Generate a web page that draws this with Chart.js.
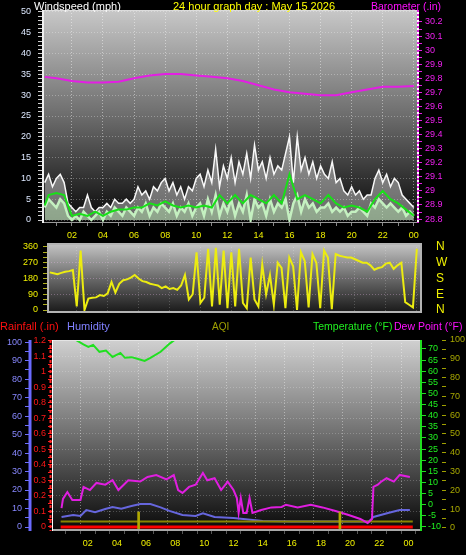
<!DOCTYPE html>
<html>
<head>
<meta charset="utf-8">
<script src="https://cdn.jsdelivr.net/npm/chart.js@4.4.1/dist/chart.umd.min.js"></script>
<style>
  html, body { margin: 0; padding: 0; background: #000; }
  body { position: relative; width: 466px; height: 555px; overflow: hidden; font-family: 'Liberation Sans', Arial, sans-serif; }
  canvas { position: absolute; left: 0; }
  .lbl { position: absolute; z-index: 2; font-size: 11px; line-height: 12px; white-space: nowrap; }
</style>
</head>
<body>
<canvas id="windChart" width="466" height="246" style="top:0"></canvas>
<canvas id="dirChart" width="466" height="80" style="top:240px"></canvas>
<canvas id="climateChart" width="466" height="225" style="top:330px"></canvas>
<div class="lbl" style="left:34px;top:0;color:#fff">Windspeed (mph)</div>
<div class="lbl" style="left:173px;top:0;color:#ffff00">24 hour graph day : May 15 2026</div>
<div class="lbl" style="left:371px;top:0;color:#ff10ff;font-size:10.5px">Barometer (.in)</div>
<div class="lbl" style="left:0;top:320px;color:#ff1010">Rainfall (.in)</div>
<div class="lbl" style="left:67px;top:320px;color:#8080ff">Humidity</div>
<div class="lbl" style="left:212px;top:321px;color:#a0a000;font-size:10px">AQI</div>
<div class="lbl" style="left:313px;top:320px;color:#20f020;font-size:10.5px">Temperature (°F)</div>
<div class="lbl" style="left:394px;top:320px;color:#ff10ff;font-size:10.5px">Dew Point (°F)</div>
<script>
// ---------- data (hours since midnight) ----------
const X_MIN = 0.14, X_MAX = 24.27;
const hourTicks = [1, 2, 3, 4, 5, 6, 7, 8, 9, 10, 11, 12, 13, 14, 15, 16, 17, 18, 19, 20, 21, 22, 23, 24];

// wind, one sample every 15 min from 00:15
const gust = [9, 11, 8, 10, 11, 9, 4,
  3, 2, 3, 3, 6, 3, 2, 3, 3,
  4, 3, 5, 4, 4, 5, 4, 5,
  8, 6, 7, 5, 8, 7, 9, 10,
  7, 9, 6, 8, 5, 8, 7, 10,
  11, 8, 12, 9, 17, 8, 13, 10,
  15, 9, 14, 11, 16, 10, 18, 12,
  14, 10, 15, 11, 13, 12, 16, 20,
  9, 20, 12, 15, 11, 14, 10, 13,
  11, 10, 14, 9, 10, 7, 6, 8,
  6, 7, 5, 6, 6, 10, 12, 9,
  11, 8, 10, 9, 6, 5, 4, 3];
const speed = [3, 5, 4, 3, 5, 4, 1,
  0, 1, 0, 2, 1, 0, 1, 2, 0,
  2, 1, 3, 2, 1, 3, 2, 1,
  3, 2, 4, 1, 3, 2, 4, 3,
  2, 4, 1, 3, 2, 4, 1, 3,
  4, 1, 5, 2, 6, 1, 4, 2,
  5, 1, 4, 2, 6, 0, 5, 3,
  4, 1, 5, 2, 4, 3, 5, 0,
  4, 6, 2, 5, 3, 4, 2, 3,
  3, 4, 2, 3, 2, 3, 1, 2,
  2, 3, 2, 1, 4, 3, 5, 4,
  3, 4, 3, 2, 3, 1, 2, 1];
const direction = [215, 210, 205, 212, 218, 222, 228,
  20, 340, 0, 65, 70, 72, 85, 80, 95,
  160, 100, 150, 170, 175, 185, 200, 180,
  165, 160, 150, 145, 140, 125, 135, 120,
  125, 115, 140, 200, 60, 90, 330, 40,
  70, 350, 20, 355, 30, 340, 10, 330,
  20, 350, 40, 10, 300, 60, 20, 260,
  90, 200, 30, 270, 240, 10, 300, 250,
  0, 330, 280, 15, 320, 270, 10, 340,
  300, 5, 320, 310, 305, 300, 300, 290,
  280, 270, 270, 255, 230, 240, 245, 265,
  270, 235, 255, 270, 45, 30, 15, 350];

const avgHours = [0.25, 0.5, 1, 1.5, 2, 2.5, 3, 3.5, 4, 4.5, 5, 5.5, 6, 6.5, 7, 7.5, 8, 8.5, 9, 9.5, 10, 10.5,
  11, 11.5, 12, 12.5, 13, 13.5, 14, 14.5, 15, 15.5, 16, 16.5, 17, 17.5, 18, 18.5, 19, 19.5, 20, 20.5,
  21, 21.5, 22, 22.5, 23, 23.5, 24];
const avgSpeed = [3.5, 6, 6.5, 6, 1, 1.5, 1, 2, 1, 2, 2.5, 2.5, 3, 3, 4, 3.5, 4.5, 3.5, 3, 3.5, 3, 3.5,
  3, 6, 4, 6, 4, 6, 5, 4, 6, 4, 11, 5, 6, 5, 4, 6, 4, 3, 3.5, 3,
  2, 5, 7, 5, 4, 2.5, 1];

const baroHours = [0.25, 1, 2, 3, 4, 5, 6, 7, 8, 9, 10, 11, 12, 13, 14, 15, 16, 17, 18, 19, 20, 21, 22, 23, 24];
const baro = [29.81, 29.80, 29.78, 29.77, 29.77, 29.775, 29.80, 29.82, 29.83, 29.83, 29.82, 29.81, 29.80,
  29.78, 29.75, 29.72, 29.70, 29.69, 29.68, 29.68, 29.70, 29.72, 29.74, 29.74, 29.745];

const tempHours = [0.25, 1, 1.27, 1.7, 2.04, 2.37, 2.8, 3.25, 3.7, 4.24, 4.55, 5.0, 5.4, 5.9, 6.3, 7.0, 7.64, 8.0,
  9, 10, 12, 14, 16, 18, 20, 22, 24.1];
const temperature = [77, 75, 73.7, 72, 70.9, 71.8, 68.7, 69.3, 66.4, 68.2, 66, 66.3, 65.6, 64.6, 66, 68.7, 72.5, 74.2,
  78, 81, 85, 86, 85, 83, 80, 78, 77];

const dewHours = [0.2, 0.3, 0.6, 0.94, 1.5, 1.71, 2.15, 2.6, 3.2, 3.7, 4.1, 4.78, 5.6, 6.1, 6.7, 7.4, 7.9, 8.2, 8.5,
  8.95, 9.4, 9.9, 10.2, 10.7, 11.15, 11.6, 12.0, 12.23, 12.35, 12.5, 12.67, 12.9, 13.1, 13.3, 13.9, 14.6, 15.3,
  15.6, 16.4, 17.3, 18.1, 19.0, 19.9, 20.7, 21.2, 21.5, 21.6, 21.9, 22.1, 22.5, 23.0, 23.4, 24.1];
const dewPoint = [-1.5, 2.6, 5.7, 2.1, 2.1, 8, 6.6, 9.8, 9, 11, 6.6, 11, 10.4, 12.5, 13.3, 11.4, 13.3, 6.6, 5.3,
  8, 9, 14.3, 11, 11.9, 6.6, 10.4, 6.6, 3, -3.7, 3, -3.7, -3.7, 3, -3.7, -2.4, -1.2, -1,
  0, -1.2, 0, -1.2, -2.8, -4.6, -6.4, -8.2, -6.4, 8, 9, 10.2, 11.9, 10.4, 13.4, 12.5];

const humHours = [0.2, 1.0, 1.5, 1.9, 2.5, 3.2, 3.7, 4.3, 5.0, 5.6, 6.3, 7.0, 7.6, 8.5, 9.4, 9.9, 10.7, 12.0, 12.5,
  14, 16, 18, 20, 21.3, 21.6, 22.6, 23.4, 24.1];
const humidity = [5.4, 6.5, 6, 9.2, 8, 9.7, 10.8, 9.9, 11.4, 12.4, 12.4, 10.6, 8.7, 6.5, 6, 7.4, 5.4, 4.9, 4.5,
  3.2, 3.0, 3.0, 3.0, 3.0, 5.4, 7.6, 9.2, 9.2];

const aqiHours = [0.14, 24.3];
const aqi = [3.5, 3.5];
const aqiSpikeHours = [5.49, 19.3];
const aqiSpike = [[-2, 8.5], [-2, 8.5]];

const rainHours = [0.14, 24.3];
const rain = [0, 0];

const compass = ['N', 'E', 'S', 'W', 'N'];

// ---------- helpers ----------
const range = (a, b, s) => Array.from({ length: Math.round((b - a) / s) + 1 }, (_, i) => +(a + i * s).toFixed(2));
const xy = (xs, ys) => ys.map((y, i) => ({ x: xs[i], y }));
const windHours = gust.map((_, i) => 0.25 + i * 0.25);
const FONT = { family: "'Liberation Sans', Arial, sans-serif", size: 9 };
const tenth = v => Math.round(v * 100) % 10 === 0;

function xAxis(o) {
  return {
    type: 'linear', min: X_MIN, max: X_MAX,
    afterBuildTicks: s => { s.ticks = hourTicks.map(v => ({ value: v })); },
    afterFit: s => { s.height = o.height; s.paddingLeft = 0; s.paddingRight = 0; },
    border: { display: false, dash: [1, 2] },
    grid: {
      color: c => c.tick && c.tick.value % 2 === 0 ? o.grid : 'rgba(0,0,0,0)',
      tickColor: o.tickColor || '#888', tickLength: 3, drawTicks: o.labels
    },
    ticks: {
      display: o.labels, autoSkip: false, maxRotation: 0, color: '#f0f000', font: FONT, padding: 4,
      callback: v => v % 2 === 0 ? String(v % 24).padStart(2, '0') : ''
    }
  };
}
function yAxis(o) {
  return {
    type: 'linear', position: o.pos, min: o.min, max: o.max,
    afterBuildTicks: s => { s.ticks = o.ticks.map(v => ({ value: v })); },
    afterFit: s => { s.width = o.width; s.paddingTop = 0; s.paddingBottom = 0; },
    border: { display: false, dash: [1, 2] },
    grid: {
      drawOnChartArea: !!o.grid, drawTicks: o.tickLength > 0,
      color: c => c.tick && o.grid && o.grid(c.tick.value) ? o.gridColor : 'rgba(0,0,0,0)',
      tickColor: o.tickColor || 'rgba(0,0,0,0)', tickLength: o.tickLength
    },
    ticks: { autoSkip: false, color: o.color, font: o.font || FONT, padding: o.padding, callback: o.label }
  };
}
function vline(ctx, x, y1, y2, color, w, dash) {
  ctx.beginPath(); ctx.setLineDash(dash || []); ctx.strokeStyle = color; ctx.lineWidth = w;
  ctx.moveTo(x, y1); ctx.lineTo(x, y2); ctx.stroke();
}
function hline(ctx, y, x1, x2, color, w) {
  ctx.beginPath(); ctx.setLineDash([]); ctx.strokeStyle = color; ctx.lineWidth = w;
  ctx.moveTo(x1, y); ctx.lineTo(x2, y); ctx.stroke();
}
function panel(stops, edges) {
  return {
    id: 'panel',
    beforeDraw(chart) {
      const { ctx, chartArea: a } = chart;
      const g = ctx.createLinearGradient(0, a.top, 0, a.bottom);
      stops.forEach(([p, c]) => g.addColorStop(p, c));
      ctx.save(); ctx.fillStyle = g; ctx.fillRect(a.left, a.top, a.width, a.height); ctx.restore();
    },
    afterDraw(chart) { const { ctx, chartArea: a } = chart; ctx.save(); edges(ctx, a); ctx.restore(); }
  };
}
const common = {
  responsive: false, animation: false, devicePixelRatio: 1, events: [],
  plugins: { legend: { display: false }, tooltip: { enabled: false } },
  elements: { point: { radius: 0 }, line: { tension: 0 } }
};

// ---------- windspeed + barometer ----------
new Chart(document.getElementById('windChart'), {
  type: 'line',
  data: { datasets: [
    { label: 'Barometer', data: xy(baroHours, baro), yAxisID: 'baro', borderColor: '#e41ee4', borderWidth: 2 },
    { label: 'Average', data: xy(avgHours, avgSpeed), yAxisID: 'wind', borderColor: '#18e018', borderWidth: 2 },
    { label: 'Speed', data: xy(windHours, speed), yAxisID: 'wind', borderColor: '#c4f0c0', borderWidth: 2.5,
      fill: 'origin', backgroundColor: 'rgba(190,240,185,0.45)' },
    { label: 'Gust', data: xy(windHours, gust), yAxisID: 'wind', borderColor: '#f8f8f8', borderWidth: 1.5,
      fill: 'origin', backgroundColor: 'rgba(255,255,255,0.38)' }
  ] },
  options: { ...common, layout: { padding: { top: 10 } },
    scales: {
      x: xAxis({ height: 23, labels: true, grid: 'rgba(255,255,255,0.45)' }),
      wind: yAxis({ pos: 'left', min: -0.72, max: 50.48, ticks: range(0, 50, 1), width: 43,
        tickLength: 5, padding: 7, tickColor: '#cfcfcf', color: '#dde8ff',
        grid: v => v % 5 === 0, gridColor: 'rgba(255,255,255,0.3)', label: v => v % 5 === 0 ? v : '' }),
      baro: yAxis({ pos: 'right', min: 28.772, max: 30.285, ticks: range(28.8, 30.2, 0.05), width: 48,
        tickLength: 4, padding: 3, tickColor: '#e020e0', color: '#f020f0',
        label: v => tenth(v) ? String(+v.toFixed(1)) : '' })
    } },
  plugins: [panel([[0, '#c8c8c8'], [0.5, '#6c6c6c'], [1, '#060606']], (ctx, a) => {
    hline(ctx, a.top + 0.5, a.left, a.right, '#dcdcdc', 1);
    hline(ctx, a.bottom - 0.5, a.left, a.right, '#9a9a9a', 1);
    vline(ctx, a.left, a.top, a.bottom, '#f0f0f0', 2);
    vline(ctx, a.right, a.top, a.bottom, '#ffffff', 2);
    vline(ctx, a.right, a.top, a.bottom, '#e020e0', 2, [2, 2]);
  })]
});

// ---------- wind direction ----------
new Chart(document.getElementById('dirChart'), {
  type: 'line',
  data: { datasets: [
    { label: 'Direction', data: xy(windHours, direction), yAxisID: 'dir', borderColor: '#ecec10', borderWidth: 2 }
  ] },
  options: { ...common, layout: { padding: { top: 4 } },
    scales: {
      x: xAxis({ height: 8, labels: false, grid: 'rgba(255,255,255,0.2)' }),
      dir: yAxis({ pos: 'left', min: -11.4, max: 377, ticks: range(0, 360, 30), width: 48,
        tickLength: 5, padding: 5, tickColor: '#b0b020', color: '#f0f000',
        grid: v => v % 90 === 0 && v > 0 && v < 360, gridColor: 'rgba(255,200,255,0.3)',
        label: v => v % 90 === 0 ? v : '' }),
      compass: yAxis({ pos: 'right', min: -11.4, max: 377, ticks: [0, 90, 180, 270, 360], width: 45,
        tickLength: 0, padding: 15, color: '#f0f000', font: { family: FONT.family, size: 12 },
        label: v => compass[v / 90] })
    } },
  plugins: [panel([[0, '#c4c4c4'], [0.5, '#6a6a6a'], [1, '#1a1a1a']], (ctx, a) => {
    ctx.setLineDash([]); ctx.strokeStyle = '#b4b4b4'; ctx.lineWidth = 2;
    ctx.strokeRect(a.left, a.top, a.width, a.height);
  })]
});

// ---------- rain / humidity / AQI / temperature / dew point ----------
new Chart(document.getElementById('climateChart'), {
  type: 'line',
  data: { datasets: [
    { type: 'bar', label: 'AQI peak', data: xy(aqiSpikeHours, aqiSpike), yAxisID: 'aqi',
      backgroundColor: '#b0a800', barThickness: 2 },
    { label: 'Rainfall', data: xy(rainHours, rain), yAxisID: 'rain', borderColor: '#ff0000', borderWidth: 3 },
    { label: 'Dew Point', data: xy(dewHours, dewPoint), yAxisID: 'temp', borderColor: '#e01ee0', borderWidth: 2 },
    { label: 'AQI', data: xy(aqiHours, aqi), yAxisID: 'aqi', borderColor: '#8a8400', borderWidth: 2 },
    { label: 'Humidity', data: xy(humHours, humidity), yAxisID: 'hum', borderColor: '#6666dd', borderWidth: 2 },
    { label: 'Temperature', data: xy(tempHours, temperature), yAxisID: 'temp', borderColor: '#20e020', borderWidth: 2 }
  ] },
  options: { ...common, layout: { padding: { top: 10 } },
    scales: {
      x: xAxis({ height: 24, labels: true, grid: 'rgba(255,255,255,0.4)', tickColor: '#555' }),
      rain: yAxis({ pos: 'left', min: -0.026, max: 1.206, ticks: range(0, 1.2, 0.05), width: 22,
        tickLength: 5, padding: 2, tickColor: '#ff2020', color: '#ff1818',
        grid: v => tenth(v) && v > 0, gridColor: 'rgba(255,255,255,0.22)',
        label: v => tenth(v) ? String(+v.toFixed(1)) : '' }),
      hum: yAxis({ pos: 'left', min: -2.16, max: 101.1, ticks: range(0, 100, 5), width: 31,
        tickLength: 6, padding: 3, tickColor: '#7070ff', color: '#8888ff',
        label: v => v % 10 === 0 ? v : '' }),
      temp: yAxis({ pos: 'right', min: -11.8, max: 74.0, ticks: range(-10, 70, 5), width: 22,
        tickLength: 6, padding: 2, tickColor: '#20e020', color: '#20f020', label: v => v }),
      aqi: yAxis({ pos: 'right', min: -1.6, max: 100, ticks: range(0, 100, 5), width: 24,
        tickLength: 4, padding: 4, tickColor: '#a0a000', color: '#a8a800',
        label: v => v % 10 === 0 ? v : '' })
    } },
  plugins: [panel([[0, '#d0d0d0'], [0.5, '#6e6e6e'], [1, '#080808']], (ctx, a) => {
    hline(ctx, a.top + 0.5, a.left, a.right, '#e4e4e4', 1);
    hline(ctx, a.bottom - 1, a.left, a.right, '#a8a8a8', 2);
    vline(ctx, a.left - 0.5, a.top, a.bottom, '#ffffff', 1);
    vline(ctx, a.left - 2.5, a.top, a.bottom, '#ff2020', 2, [3, 2]);
    vline(ctx, a.right + 1, a.top, a.bottom, '#20e020', 2);
    vline(ctx, 30, a.top, a.bottom, '#6a6aff', 3);
  })]
});
</script>
</body>
</html>
